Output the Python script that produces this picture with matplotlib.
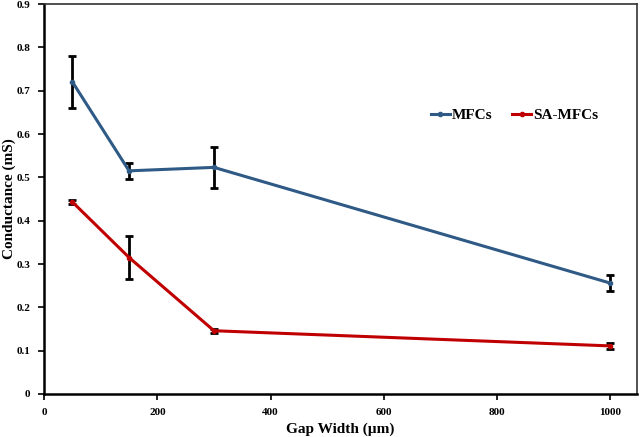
import matplotlib.pyplot as plt
from matplotlib.lines import Line2D

# gap width (um) and conductance (mS)
gap = [50, 150, 300, 1000]
mfc = [0.720, 0.515, 0.523, 0.256]
mfc_err = [0.059, 0.019, 0.048, 0.018]
sa_mfc = [0.443, 0.315, 0.146, 0.111]
sa_mfc_err = [0.004, 0.050, 0.005, 0.006]

blue = '#2F5A86'
red = '#C00000'

plt.rcParams['font.family'] = ['Liberation Serif', 'DejaVu Serif']
plt.rcParams['font.weight'] = 'bold'

fig = plt.figure(figsize=(6.4, 4.37), dpi=100)
ax = fig.add_axes([0.069, 0.0984, 0.926, 0.8924])

ax.errorbar(gap, mfc, yerr=mfc_err, color=blue, lw=2.2, marker='o', ms=3,
            ecolor='black', elinewidth=2, capsize=3, capthick=2)
ax.errorbar(gap, sa_mfc, yerr=sa_mfc_err, color=red, lw=2.2, marker='o', ms=3,
            ecolor='black', elinewidth=2, capsize=3, capthick=2)

ax.set_xlim(0, 1047)
ax.set_ylim(0, 0.9)
ax.set_xticks([0, 200, 400, 600, 800, 1000])
ax.set_yticks([0, 0.1, 0.2, 0.3, 0.4, 0.5, 0.6, 0.7, 0.8, 0.9])
ax.set_yticklabels(['0', '0.1', '0.2', '0.3', '0.4', '0.5', '0.6', '0.7', '0.8', '0.9'])
ax.tick_params(labelsize=8, width=1.2, length=4, direction='out', pad=6)

for s in ['left', 'bottom']:
    ax.spines[s].set_linewidth(1.8)
for s in ['top', 'right']:
    ax.spines[s].set_linewidth(1.2)
    ax.spines[s].set_color('#333333')

ax.set_xlabel('Gap Width (\u00b5m)', fontsize=11, fontweight='bold', labelpad=4)
ax.set_ylabel('Conductance (mS)', fontsize=11, fontweight='bold')
ax.yaxis.set_label_coords(-0.048, 0.5)

handles = [Line2D([], [], color=blue, lw=2.2, marker='o', ms=3),
           Line2D([], [], color=red, lw=2.2, marker='o', ms=3)]
ax.legend(handles, ['MFCs', 'SA-MFCs'], loc='center left', bbox_to_anchor=(0.63, 0.715),
          ncol=2, frameon=False, fontsize=11, handlelength=1.2, handletextpad=0.15,
          columnspacing=1.3)

fig.savefig('out.png', dpi=100)
